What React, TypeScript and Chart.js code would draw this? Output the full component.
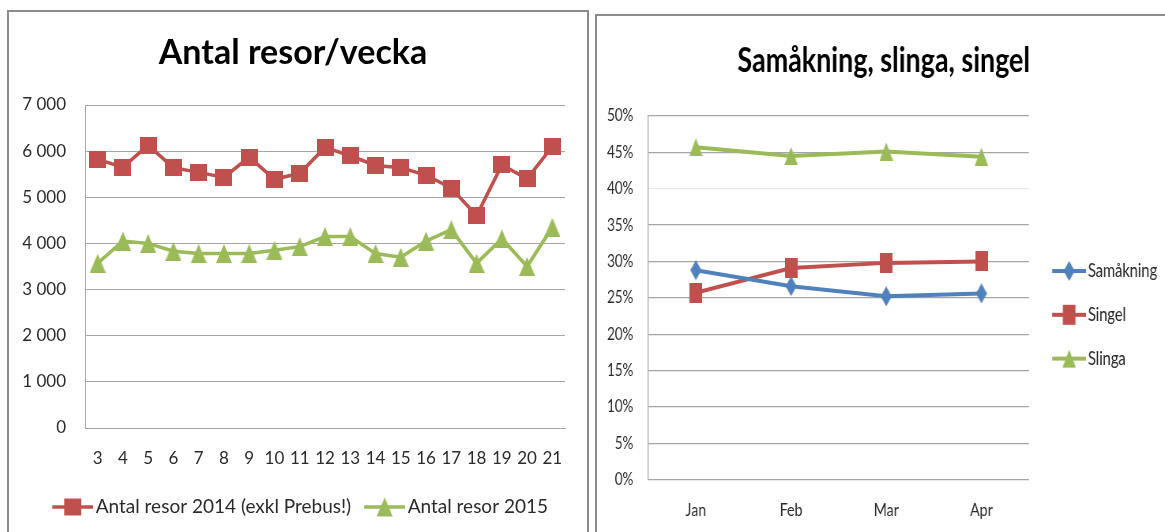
import { useEffect, useRef } from 'react';
import { Chart, registerables } from 'chart.js';

Chart.register(...registerables);

// ---------- data ----------
const weeks = ['3', '4', '5', '6', '7', '8', '9', '10', '11', '12', '13', '14', '15', '16', '17', '18', '19', '20', '21'];
const resor2014 = [5820, 5650, 6130, 5640, 5540, 5430, 5870, 5390, 5520, 6080, 5900, 5690, 5640, 5480, 5200, 4600, 5700, 5400, 6100];
const resor2015 = [3570, 4050, 4000, 3830, 3780, 3780, 3780, 3850, 3930, 4150, 4150, 3780, 3700, 4050, 4300, 3570, 4100, 3500, 4350];

const months = ['Jan', 'Feb', 'Mar', 'Apr'];
const samakning = [28.8, 26.6, 25.2, 25.6];
const singel = [25.7, 29.1, 29.8, 30.0];
const slinga = [45.7, 44.5, 45.1, 44.4];

const leftTitle = 'Antal resor/vecka';
const rightTitle = 'Samåkning, slinga, singel';
const leftLabels = ['Antal resor 2014 (exkl Prebus!)', 'Antal resor 2015'];
const rightLabels = ['Samåkning', 'Singel', 'Slinga'];

// ---------- styles ----------
const RED = '#C0504D';
const GREEN = '#9BBB59';
const BLUE = '#4F81BD';
const GRID = '#a6a6a6';
const TEXT = '#2b2b2b';
const FONT = "Lato, 'Open Sans', sans-serif";

type Shape = 'square' | 'triangle' | 'diamond';

function drawShape(ctx: CanvasRenderingContext2D, shape: Shape, cx: number, cy: number, w: number, h: number, color: string) {
  ctx.fillStyle = color;
  ctx.beginPath();
  if (shape === 'square') {
    ctx.rect(cx - w / 2, cy - h / 2, w, h);
  } else if (shape === 'triangle') {
    ctx.moveTo(cx, cy - h / 2);
    ctx.lineTo(cx + w / 2, cy + h / 2);
    ctx.lineTo(cx - w / 2, cy + h / 2);
    ctx.closePath();
  } else {
    ctx.moveTo(cx, cy - h / 2);
    ctx.lineTo(cx + w / 2, cy);
    ctx.lineTo(cx, cy + h / 2);
    ctx.lineTo(cx - w / 2, cy);
    ctx.closePath();
  }
  ctx.fill();
}

function marker(shape: Shape, w: number, h: number, color: string): HTMLCanvasElement {
  const c = document.createElement('canvas');
  c.width = w;
  c.height = h;
  const ctx = c.getContext('2d')!;
  drawShape(ctx, shape, w / 2, h / 2, w, h, color);
  return c;
}

function legendIcon(shape: Shape, mw: number, mh: number, color: string, imgW: number, lineFrom: number, lw: number): HTMLCanvasElement {
  const imgH = 24;
  const c = document.createElement('canvas');
  c.width = imgW;
  c.height = imgH;
  const ctx = c.getContext('2d')!;
  ctx.strokeStyle = color;
  ctx.lineWidth = lw;
  ctx.beginPath();
  ctx.moveTo(lineFrom, imgH / 2);
  ctx.lineTo(imgW, imgH / 2);
  ctx.stroke();
  drawShape(ctx, shape, (lineFrom + imgW) / 2, imgH / 2, mw, mh, color);
  return c;
}

const thousands = (v: number) => String(v).replace(/\B(?=(\d{3})+(?!\d))/g, ' ');

export default function App() {
  const leftRef = useRef<HTMLCanvasElement>(null);
  const rightRef = useRef<HTMLCanvasElement>(null);

  useEffect(() => {
    if (!leftRef.current || !rightRef.current) return;

    // ---- left chart ----
    const redSq = marker('square', 17, 17, RED);
    const greenTri = marker('triangle', 16, 19, GREEN);
    const leftIcons = [
      legendIcon('square', 17, 17, RED, 44, 3, 3.5),
      legendIcon('triangle', 16, 19, GREEN, 44, 3, 3.5),
    ];
    const leftColors = [RED, GREEN];

    const left = new Chart(leftRef.current, {
      type: 'line',
      data: {
        labels: weeks,
        datasets: [
          { label: leftLabels[0], data: resor2014, borderColor: RED, backgroundColor: RED, borderWidth: 3.5, pointStyle: redSq as any, pointRadius: 8, fill: false, tension: 0 },
          { label: leftLabels[1], data: resor2015, borderColor: GREEN, backgroundColor: GREEN, borderWidth: 3.5, pointStyle: greenTri as any, pointRadius: 8, fill: false, tension: 0 },
        ],
      },
      options: {
        animation: false,
        responsive: true,
        maintainAspectRatio: false,
        layout: { padding: { left: 12, right: 22, top: 0, bottom: 5.5 } },
        plugins: {
          title: {
            display: true,
            text: leftTitle,
            color: '#000',
            font: { family: FONT, size: 34, weight: 'bold', lineHeight: 1.2 },
            padding: { top: 21, bottom: 31.2 },
          },
          legend: {
            position: 'bottom',
            align: 'end',
            labels: {
              usePointStyle: true,
              pointStyleWidth: 30,
              padding: 17,
              color: TEXT,
              font: { family: FONT, size: 19 },
              generateLabels: () =>
                leftLabels.map((t, i) => ({
                  text: t,
                  pointStyle: leftIcons[i] as any,
                  fillStyle: leftColors[i],
                  strokeStyle: leftColors[i],
                  lineWidth: 0,
                  hidden: false,
                  datasetIndex: i,
                  fontColor: TEXT,
                })),
            },
          },
          tooltip: { enabled: false },
        },
        scales: {
          x: {
            offset: true,
            grid: { display: false, drawTicks: false },
            border: { display: true, color: GRID, width: 1 },
            ticks: { padding: 20.5, color: TEXT, font: { family: FONT, size: 17 }, autoSkip: false, maxRotation: 0 },
            afterFit: (s: any) => { s.height = 52.5; },
          },
          y: {
            min: 0,
            max: 7000,
            ticks: { stepSize: 1000, padding: 19, color: TEXT, font: { family: FONT, size: 17 }, callback: (v: any) => thousands(Number(v)) },
            grid: { color: GRID, lineWidth: 1, drawTicks: false },
            border: { display: true, color: GRID, width: 1 },
            afterFit: (s: any) => { s.width = 64; },
          },
        },
      },
    });

    // ---- right chart (drawn wide, squeezed horizontally by CSS) ----
    const rightIcons = [
      legendIcon('diamond', 14, 20, BLUE, 54, 11, 4),
      legendIcon('square', 16, 20, RED, 54, 11, 4),
      legendIcon('triangle', 17, 18, GREEN, 54, 11, 4),
    ];
    const rightColors = [BLUE, RED, GREEN];

    const right = new Chart(rightRef.current, {
      type: 'line',
      data: {
        labels: months,
        datasets: [
          { label: rightLabels[0], data: samakning, borderColor: BLUE, backgroundColor: BLUE, borderWidth: 4, pointStyle: marker('diamond', 14, 20, BLUE) as any, pointRadius: 8, fill: false, tension: 0 },
          { label: rightLabels[1], data: singel, borderColor: RED, backgroundColor: RED, borderWidth: 4, pointStyle: marker('square', 16, 20, RED) as any, pointRadius: 8, fill: false, tension: 0 },
          { label: rightLabels[2], data: slinga, borderColor: GREEN, backgroundColor: GREEN, borderWidth: 4, pointStyle: marker('triangle', 17, 18, GREEN) as any, pointRadius: 8, fill: false, tension: 0 },
        ],
      },
      options: {
        animation: false,
        responsive: true,
        maintainAspectRatio: false,
        layout: { padding: { left: 7, right: 0, top: 0, bottom: 0 } },
        plugins: {
          title: {
            display: true,
            text: rightTitle,
            color: '#000',
            font: { family: FONT, size: 34, weight: 'bold', lineHeight: 1.2 },
            padding: { top: 24.6, bottom: 34.5 },
          },
          legend: {
            position: 'right',
            fullSize: false,
            maxWidth: 173.4,
            title: { display: true, text: '', font: { size: 10, lineHeight: 1 }, padding: { top: 24, bottom: 0 } },
            labels: {
              usePointStyle: true,
              pointStyleWidth: 40,
              padding: 25.3,
              color: TEXT,
              font: { family: FONT, size: 18.5 },
              generateLabels: () =>
                rightLabels.map((t, i) => ({
                  text: t,
                  pointStyle: rightIcons[i] as any,
                  fillStyle: rightColors[i],
                  strokeStyle: rightColors[i],
                  lineWidth: 0,
                  hidden: false,
                  datasetIndex: i,
                  fontColor: TEXT,
                })),
            },
          },
          tooltip: { enabled: false },
        },
        scales: {
          x: {
            offset: true,
            grid: { display: false, drawTicks: false },
            border: { display: true, color: GRID, width: 1 },
            ticks: { padding: 19.5, color: TEXT, font: { family: FONT, size: 18 }, autoSkip: false, maxRotation: 0 },
            afterFit: (s: any) => { s.height = 52.3; },
          },
          y: {
            min: 0,
            max: 50,
            ticks: { stepSize: 5, padding: 18.9, color: TEXT, font: { family: FONT, size: 17 }, callback: (v: any) => `${v}%` },
            grid: {
              color: (c: any) => (c.tick && c.tick.value === 40 ? '#e8e8e8' : GRID),
              lineWidth: 1.3,
              drawTicks: false,
            },
            border: { display: true, color: GRID, width: 1.3 },
            afterFit: (s: any) => { s.width = 57.9; },
          },
        },
      },
    });

    return () => {
      left.destroy();
      right.destroy();
    };
  }, []);

  return (
    <div style={{ position: 'absolute', left: 0, top: 0, width: 1165, height: 532, overflow: 'hidden', background: '#fff' }}>
      <div style={{ position: 'absolute', left: 7, top: 10, width: 582, height: 560, border: '2px solid #8c8c8c', boxSizing: 'border-box' }} />
      <div style={{ position: 'absolute', left: 9, top: 12, width: 578, height: 520 }}>
        <canvas ref={leftRef} />
      </div>
      <div style={{ position: 'absolute', left: 595, top: 14, width: 640, height: 560, border: '2px solid #8c8c8c', boxSizing: 'border-box' }} />
      <div style={{ position: 'absolute', left: 597, top: 16, width: 719, height: 516, transform: 'scaleX(0.79)', transformOrigin: '0 0' }}>
        <canvas ref={rightRef} />
      </div>
    </div>
  );
}
